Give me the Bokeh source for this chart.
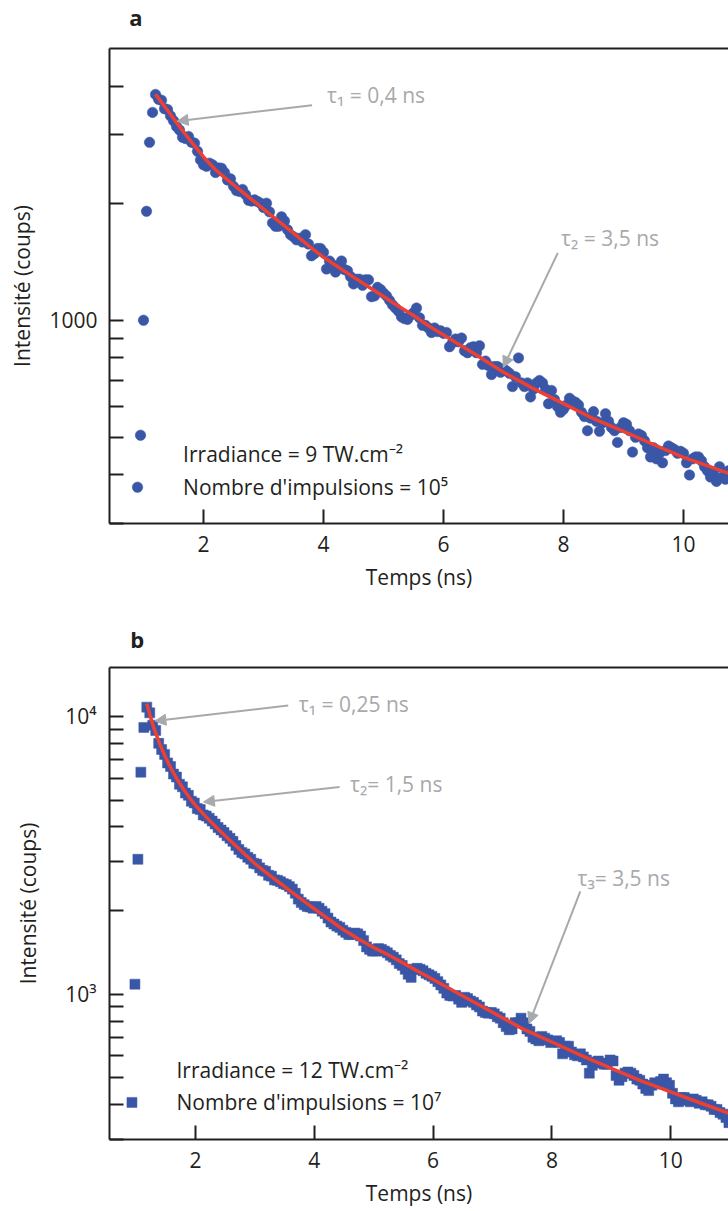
import numpy as np
from bokeh.plotting import figure
from bokeh.models import FixedTicker, LinearAxis, Label, Arrow, NormalHead, Range1d
from bokeh.layouts import column
from bokeh.embed import file_html
from bokeh.resources import INLINE

FONT = "Open Sans"
INK = "#231f20"
GREY = "#a7a9ac"
BLUE = "#3a56a6"
RED = "#ee3f33"

# ---------------- panel a data ----------------
a_t0, a_dt = 0.90, 0.05          # time of first bin, bin width (ns)
a_counts = [
    372, 506, 1000, 1906, 2868, 3425, 3810, 3700, 3680, 3500,
    3485, 3355, 3260, 3150, 3085, 2955, 2935, 2970, 2870, 2855,
    2720, 2585, 2510, 2490, 2535, 2510, 2400, 2465, 2460, 2400,
    2295, 2310, 2210, 2155, 2145, 2170, 2105, 2035, 2025, 2040,
    2020, 2000, 1950, 2000, 1900, 1780, 1745, 1745, 1845, 1800,
    1710, 1660, 1640, 1610, 1625, 1590, 1660, 1570, 1465, 1485,
    1530, 1530, 1495, 1355, 1420, 1390, 1330, 1380, 1420, 1350,
    1340, 1295, 1240, 1275, 1275, 1230, 1270, 1270, 1150, 1155,
    1215, 1200, 1175, 1155, 1125, 1095, 1075, 1055, 1020, 1010,
    1005, 1030, 1045, 1075, 1015, 970, 970, 955, 930, 955,
    935, 940, 925, 930, 855, 875, 895, 880, 900, 835,
    825, 850, 855, 825, 860, 770, 785, 765, 725, 760,
    760, 735, 750, 740, 730, 675, 715, 800, 690, 675,
    690, 635, 665, 690, 700, 690, 665, 610, 660, 625,
    600, 580, 590, 605, 630, 620, 615, 605, 580, 565,
    520, 560, 582, 550, 518, 545, 575, 550, 530, 520,
    485, 530, 545, 540, 520, 458, 500, 510, 505, 490,
    470, 445, 470, 440, 455, 430, 462, 475, 470, 465,
    455, 460, 455, 430, 400, 440, 445, 445, 435, 420,
    410, 395, 405, 385, 420, 395, 390, 410, 405,
]
a_fit_t = [1.2, 1.4, 1.6, 1.8, 2.0, 2.2, 2.4, 2.6, 2.8, 3.0,
           3.25, 3.5, 3.75, 4.0, 4.25, 4.5, 4.75, 5.0, 5.25, 5.5,
           5.75, 6.0, 6.5, 7.0, 7.5, 8.0, 8.5, 9.0, 9.5, 10.0,
           10.5, 10.8]
a_fit = [3811, 3467, 3148, 2871, 2630, 2438, 2296, 2168, 2046, 1932,
         1799, 1675, 1556, 1452, 1368, 1291, 1219, 1151, 1086, 1028,
         968, 916, 822, 735, 667, 610, 558, 518, 479, 444,
         417, 401]
a_y_major = [1000]
a_y_minor = [300, 400, 500, 600, 700, 800, 900, 2000, 3000, 4000]
a_y_labels = {1000: "1000"}

# ---------------- panel b data ----------------
b_t0, b_dt = 0.93, 0.05
b_counts = [
    408, 1087, 3060, 6300, 9130, 10800, 10300, 9300, 8900, 8000,
    7600, 7300, 6800, 6600, 6200, 6050, 5700, 5580, 5300, 5200,
    4950, 4880, 4660, 4620, 4420, 4380, 4300, 4200, 4100, 3980,
    3900, 3820, 3720, 3640, 3550, 3430, 3320, 3240, 3200, 3110,
    3060, 2960, 2940, 2850, 2790, 2770, 2680, 2660, 2580, 2570,
    2540, 2500, 2480, 2440, 2390, 2310, 2200, 2140, 2100, 2070,
    2060, 2040, 2070, 2040, 1990, 1950, 1880, 1820, 1790, 1760,
    1740, 1700, 1670, 1640, 1640, 1660, 1650, 1620, 1560, 1480,
    1450, 1430, 1430, 1460, 1450, 1430, 1410, 1380, 1360, 1330,
    1290, 1270, 1230, 1180, 1150, 1230, 1240, 1230, 1215, 1190,
    1175, 1160, 1140, 1110, 1080, 1050, 1010, 990, 985, 990,
    960, 935, 975, 965, 945, 935, 915, 900, 870, 860,
    855, 860, 850, 830, 820, 790, 765, 745, 750, 790,
    790, 820, 790, 750, 735, 700, 690, 680, 705, 695,
    685, 670, 675, 680, 670, 610, 650, 650, 620, 605,
    600, 610, 595, 580, 520, 555, 570, 575, 565, 560,
    560, 580, 575, 510, 490, 505, 520, 525, 520, 510,
    495, 490, 475, 458, 450, 470, 480, 475, 485, 495,
    480, 470, 440, 420, 410, 425, 425, 415, 410, 420,
    415, 405, 410, 400, 400, 395, 385, 385, 375, 370,
    360, 345,
]
b_fit_t = [1.18, 1.25, 1.30, 1.35, 1.40, 1.50, 1.60, 1.70, 1.80, 1.90,
           2.0, 2.2, 2.4, 2.6, 2.8, 3.0, 3.25, 3.5, 3.75, 4.0,
           4.25, 4.5, 4.75, 5.0, 5.25, 5.5, 5.75, 6.0, 6.5, 7.0,
           7.5, 8.0, 8.5, 9.0, 9.5, 10.0, 10.5, 11.0]
b_fit = [11117, 9817, 9078, 8472, 7943, 7096, 6427, 5888, 5458, 5093,
         4786, 4295, 3890, 3548, 3236, 2951, 2679, 2438, 2223, 2028,
         1858, 1702, 1578, 1472, 1384, 1294, 1208, 1130, 986, 861,
         752, 673, 601, 541, 488, 445, 406, 372]
b_y_major = [1000, 10000]
b_y_minor = [300, 400, 500, 600, 700, 800, 900,
             2000, 3000, 4000, 5000, 6000, 7000, 8000, 9000]
b_y_labels = {1000: "10³", 10000: "10⁴"}

x_ticks = [2, 4, 6, 8, 10]
x_title = "Temps (ns)"
y_title = "Intensité (coups)"

# annotations: (text, x, y, colour)
a_notes = [("τ₁ = 0,4 ns", 4.06, 3792, GREY),
           ("τ₂ = 3,5 ns", 7.96, 1632, GREY),
           ("Irradiance = 9 TW.cm⁻²", 1.66, 452, INK),
           ("Nombre d'impulsions = 10⁵", 1.66, 373, INK)]
a_arrows = [(3.81, 3573, 1.56, 3251), (7.905, 1490, 6.995, 756)]
b_notes = [("τ₁ = 0,25 ns", 3.74, 11110, GREY),
           ("τ₂= 1,5 ns", 4.60, 5723, GREY),
           ("τ₃= 3,5 ns", 8.43, 2627, GREY),
           ("Irradiance = 12 TW.cm⁻²", 1.68, 532, INK),
           ("Nombre d'impulsions = 10⁷", 1.68, 410, INK)]
b_arrows = [(3.561, 10956, 1.316, 9621), (4.425, 5569, 2.133, 4918),
            (8.478, 2347, 7.615, 784)]

W = 728
LEFT = 109   # common left border so the column keeps every frame in place


def letter_strip(letter, height, x, y_mid):
    """Text-only strip holding the panel letter (page-pixel coordinates)."""
    s = figure(width=W, height=height, x_range=Range1d(LEFT, W),
               y_range=Range1d(height, 0), x_axis_location=None,
               y_axis_location=None, toolbar_location=None,
               output_backend="svg", min_border_left=LEFT,
               min_border_right=0, min_border_top=0, min_border_bottom=0,
               outline_line_color=None,
               background_fill_color="white", border_fill_color="white")
    s.grid.visible = False
    s.add_layout(Label(x=x, y=y_mid, text=letter, text_font=FONT,
                       text_font_size="22px", text_font_style="bold",
                       text_color=INK, text_align="center",
                       text_baseline="middle"))
    return s


def panel(height, borders, xr, yr, t0, dt, counts, fit_t, fit_v,
          y_major, y_minor, y_labels, marker, msize, notes, arrows,
          ytick_standoff, ylab_standoff):
    bt, bb = borders
    p = figure(width=W, height=height, x_range=Range1d(*xr),
               y_range=Range1d(*yr), y_axis_type="log",
               output_backend="svg", toolbar_location=None,
               min_border_left=LEFT, min_border_right=0,
               min_border_top=bt, min_border_bottom=bb,
               background_fill_color="white", border_fill_color="white",
               outline_line_color=None)
    p.xgrid.visible = False
    p.ygrid.visible = False

    t = t0 + dt * np.arange(len(counts))
    p.scatter(t, counts, marker=marker, size=msize, fill_color=BLUE,
              line_color=BLUE, line_width=0.5)
    p.line(fit_t, fit_v, line_color=RED, line_width=3.5)

    xa = p.xaxis[0]
    xa.ticker = FixedTicker(ticks=x_ticks)
    xa.axis_label = x_title
    ya = p.yaxis[0]
    ya.ticker = FixedTicker(ticks=y_major, minor_ticks=y_minor)
    ya.major_label_overrides = y_labels
    ya.axis_label = y_title
    for ax in (xa, ya):
        ax.axis_line_color = INK
        ax.axis_line_width = 2
        ax.major_tick_line_color = INK
        ax.major_tick_line_width = 2
        ax.major_tick_in = 14
        ax.major_tick_out = 0
        ax.minor_tick_line_color = INK
        ax.minor_tick_line_width = 2
        ax.minor_tick_in = 14
        ax.minor_tick_out = 0
        ax.major_label_text_font = FONT
        ax.major_label_text_font_size = "21px"
        ax.major_label_text_color = INK
        ax.axis_label_text_font = FONT
        ax.axis_label_text_font_size = "21px"
        ax.axis_label_text_font_style = "normal"
        ax.axis_label_text_color = INK
    xa.minor_tick_line_color = None
    xa.major_label_standoff = 12
    xa.axis_label_standoff = 8
    ya.major_label_standoff = ytick_standoff
    ya.axis_label_standoff = ylab_standoff

    top = LinearAxis(ticker=FixedTicker(ticks=[]), axis_line_color=INK,
                     axis_line_width=2, major_tick_line_color=None,
                     minor_tick_line_color=None, major_label_standoff=0,
                     major_label_text_font_size="0px")
    p.add_layout(top, "above")

    for txt, x, y, col in notes:
        p.add_layout(Label(x=x, y=y, text=txt, text_font=FONT,
                           text_font_size="21px", text_color=col,
                           text_align="left", text_baseline="alphabetic"))
    for x0, y0, x1, y1 in arrows:
        p.add_layout(Arrow(x_start=x0, y_start=y0, x_end=x1, y_end=y1,
                           line_color=GREY, line_width=2,
                           end=NormalHead(size=11, fill_color=GREY,
                                          line_color=GREY, line_width=1)))
    return p


la = letter_strip("a", 40, 135.5, 16)
pa = panel(560, (8, 77), (0.433, 10.75), (300, 5000),
           a_t0, a_dt, a_counts, a_fit_t, a_fit, a_y_major, a_y_minor,
           a_y_labels, "circle", 10.5, a_notes, a_arrows, 12, 10)
lb = letter_strip("b", 60, 136.7, 38)
pb = panel(550, (7, 71), (0.552, 10.973), (300, 15000),
           b_t0, b_dt, b_counts, b_fit_t, b_fit, b_y_major, b_y_minor,
           b_y_labels, "square", 10, b_notes, b_arrows, 13, 20)

layout = column(la, pa, lb, pb, spacing=0)
open("out.html", "w").write(file_html(layout, INLINE))
